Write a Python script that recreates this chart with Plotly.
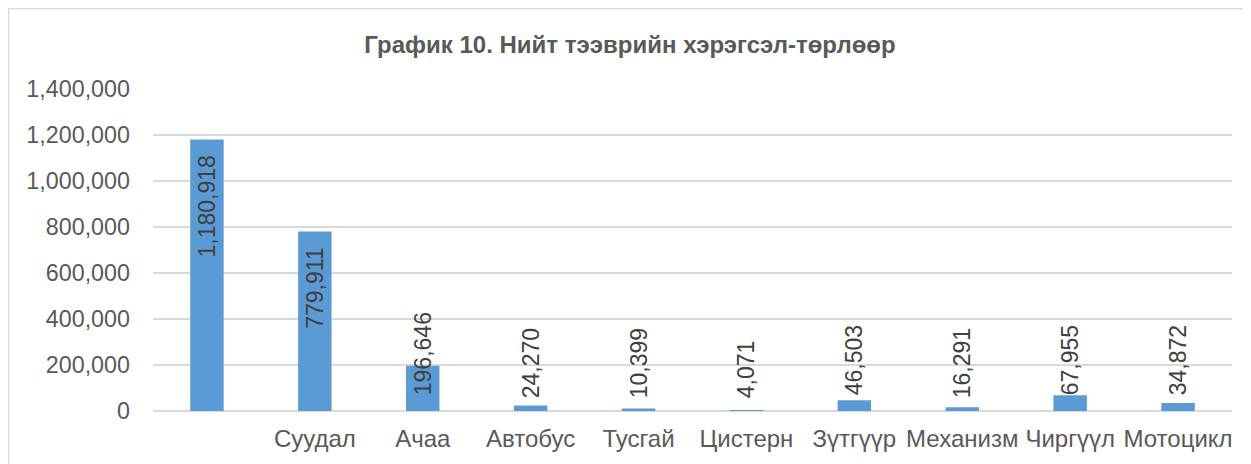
import plotly.graph_objects as go

categories = ["", "Суудал", "Ачаа", "Автобус", "Тусгай", "Цистерн", "Зүтгүүр", "Механизм", "Чиргүүл", "Мотоцикл"]
tick_labels = ["", "Суудал", "Ачаа", "Автобус", "Тусгай", "Цистерн", "Зүтгүүр", "Механизм", "Чиргүүл", "Мотоцикл"]
values = [1180918, 779911, 196646, 24270, 10399, 4071, 46503, 16291, 67955, 34872]
y_ticks = [0, 200000, 400000, 600000, 800000, 1000000, 1200000, 1400000]

x_idx = list(range(len(categories)))
THRESH = 500000
big = [i for i, v in enumerate(values) if v > THRESH]
small = [i for i, v in enumerate(values) if v <= THRESH]

font_family = "Liberation Sans, Arial, sans-serif"
FS = 24
YFS = 23.3
LFS = 23
PAD = "\u00a0\u00a0"

W, H = 1243, 456
ML, MR, MT, MB = 145, 19, 81, 53
PW, PH = W - ML - MR, H - MT - MB

label_font = dict(family=font_family, size=LFS, color="#404040")

fig = go.Figure()
fig.add_trace(go.Bar(
    x=[x_idx[i] for i in big],
    y=[values[i] for i in big],
    marker=dict(color="#5B9BD5", line=dict(width=0)),
    text=[f"{values[i]:,}" + PAD for i in big],
    textposition="inside", insidetextanchor="end",
    textangle=-90, constraintext="none",
    textfont=label_font, insidetextfont=label_font,
    cliponaxis=False, width=0.31,
))
fig.add_trace(go.Bar(
    x=[x_idx[i] for i in small],
    y=[values[i] for i in small],
    marker=dict(color="#5B9BD5", line=dict(width=0)),
    text=[PAD + f"{values[i]:,}" for i in small],
    textposition="inside", insidetextanchor="start",
    textangle=-90, constraintext="none",
    textfont=label_font, insidetextfont=label_font,
    cliponaxis=False, width=0.31,
))

fig.update_layout(
    width=W, height=H,
    margin=dict(l=ML, r=MR, t=MT, b=MB),
    paper_bgcolor="white", plot_bgcolor="white",
    showlegend=False, barmode="overlay",
    title=dict(
        text="<b>График 10. Нийт тээврийн хэрэгсэл-төрлөөр</b>",
        x=622 / W, xanchor="center",
        y=1 - 37 / H, yanchor="middle",
        font=dict(family=font_family, size=24, color="#595959"),
    ),
    xaxis=dict(
        range=[-0.5, len(categories) - 0.5],
        tickmode="array", tickvals=x_idx, ticktext=tick_labels,
        showgrid=False, zeroline=False, showline=False, ticks="",
        ticklabelstandoff=11,
        tickfont=dict(family=font_family, size=FS, color="#595959"),
    ),
    yaxis=dict(
        range=[0, 1400000],
        tickmode="array", tickvals=y_ticks,
        ticktext=[f"{t:,}" for t in y_ticks],
        showgrid=True, gridcolor="#D9D9D9", gridwidth=1.5,
        zeroline=True, zerolinecolor="#D9D9D9", zerolinewidth=1.5,
        showline=False, ticks="", ticklabelstandoff=22,
        tickfont=dict(family=font_family, size=YFS, color="#595959"),
    ),
    shapes=[dict(
        type="rect", xref="paper", yref="paper",
        x0=(0.5 - ML) / PW, x1=1.05, y0=-0.3, y1=(PH + MT - 0.5) / PH,
        line=dict(color="#D9D9D9", width=1.5), fillcolor="rgba(0,0,0,0)", layer="below",
    )],
)

fig.write_html("out.html")
